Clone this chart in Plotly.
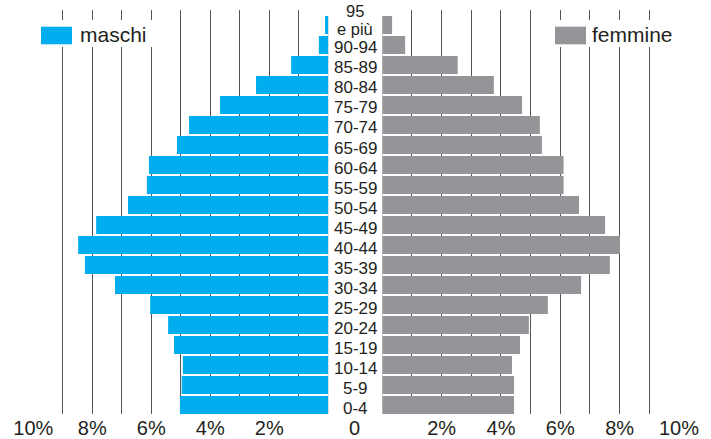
import plotly.graph_objects as go

age_groups = ["0-4", "5-9", "10-14", "15-19", "20-24", "25-29", "30-34", "35-39",
              "40-44", "45-49", "50-54", "55-59", "60-64", "65-69", "70-74",
              "75-79", "80-84", "85-89", "90-94", "95 e più"]
maschi = [5.03, 4.97, 4.93, 5.23, 5.43, 6.04, 7.23, 8.25, 8.48, 7.87,
          6.79, 6.15, 6.08, 5.13, 4.72, 3.67, 2.45, 1.26, 0.32, 0.11]
femmine = [4.44, 4.44, 4.37, 4.64, 4.94, 5.58, 6.70, 7.67, 8.01, 7.51,
           6.63, 6.11, 6.11, 5.38, 5.31, 4.71, 3.76, 2.54, 0.77, 0.33]
tick_vals = [1, 2, 3, 4, 5, 6, 7, 8, 9, 10]
tick_text = ["", "2%", "", "4%", "", "6%", "", "8%", "", "10%"]

W, H = 711, 439
BLUE = "#00AEEF"
GRAY = "#939598"
TXT = "#231F20"
FONT = "Liberation Sans, Arial, Helvetica, sans-serif"

def px(x):
    return x / W

def py(y):
    return 1 - y / H

fig = go.Figure()
fig.add_trace(go.Bar(y=age_groups, x=maschi, orientation="h", marker_color=BLUE,
                     marker_line_width=0, name="maschi", xaxis="x", yaxis="y"))
fig.add_trace(go.Bar(y=age_groups, x=femmine, orientation="h", marker_color=GRAY,
                     marker_line_width=0, name="femmine", xaxis="x2", yaxis="y2"))

axis_common = dict(tickmode="array", tickvals=tick_vals, ticktext=tick_text,
                   showgrid=True, gridcolor="#555555", gridwidth=1, zeroline=False,
                   showline=False, ticks="", fixedrange=True, automargin=False,
                   tickfont=dict(family=FONT, size=20, color=TXT))
y_dom = [py(414), py(10)]
yaxis_common = dict(type="category", categoryorder="array", categoryarray=age_groups,
                    range=[-0.45, 19.75], showticklabels=False, showgrid=False,
                    zeroline=False, showline=False, ticks="", domain=y_dom,
                    fixedrange=True, automargin=False)

fig.update_layout(
    width=W, height=H, margin=dict(l=0, r=0, t=0, b=0, autoexpand=False),
    paper_bgcolor="white", plot_bgcolor="white", showlegend=False,
    bargap=0.1,
    xaxis=dict(domain=[px(33.3), px(328.3)], range=[10, 0], anchor="y", **axis_common),
    xaxis2=dict(domain=[px(382.3), px(679)], range=[0, 10], anchor="y2", **axis_common),
    yaxis=dict(anchor="x", **yaxis_common),
    yaxis2=dict(anchor="x2", **yaxis_common),
    font=dict(family=FONT, color=TXT),
)

shapes = []
# zero lines
for xr, yr in (("x", "y"), ("x2", "y2")):
    shapes.append(dict(type="line", xref=xr, yref=yr, x0=0, x1=0, y0=-0.45, y1=19.45,
                       line=dict(color="#a0a0a0", width=1), layer="below"))
# legend backgrounds and swatches
shapes.append(dict(type="rect", xref="paper", yref="paper", x0=px(36), x1=px(156),
                   y0=py(47), y1=py(20), fillcolor="white", line_width=0, layer="above"))
shapes.append(dict(type="rect", xref="paper", yref="paper", x0=px(41), x1=px(72),
                   y0=py(44.3), y1=py(26.7), fillcolor=BLUE, line_width=0, layer="above"))
shapes.append(dict(type="rect", xref="paper", yref="paper", x0=px(550), x1=px(676),
                   y0=py(47), y1=py(20), fillcolor="white", line_width=0, layer="above"))
shapes.append(dict(type="rect", xref="paper", yref="paper", x0=px(555), x1=px(586),
                   y0=py(44.3), y1=py(26.7), fillcolor=GRAY, line_width=0, layer="above"))
fig.update_layout(shapes=shapes)

annotations = []
annotations.append(dict(text="maschi", xref="paper", yref="paper", x=px(78), y=py(34),
                        xanchor="left", yanchor="middle", showarrow=False,
                        font=dict(family=FONT, size=21, color=TXT)))
annotations.append(dict(text="femmine", xref="paper", yref="paper", x=px(590), y=py(34),
                        xanchor="left", yanchor="middle", showarrow=False,
                        font=dict(family=FONT, size=21, color=TXT)))
xc = px(355.3)
for g in age_groups:
    if g == "95 e più":
        annotations.append(dict(text="95", xref="paper", yref="paper", x=xc, y=py(11),
                                yanchor="middle", showarrow=False,
                                font=dict(family=FONT, size=16.5, color=TXT)))
        annotations.append(dict(text="e più", xref="paper", yref="paper", x=xc, y=py(29.3),
                                yanchor="middle", showarrow=False,
                                font=dict(family=FONT, size=16.5, color=TXT)))
    else:
        annotations.append(dict(text=g, xref="paper", yref="y", x=xc, y=g, yshift=-3,
                                showarrow=False, font=dict(family=FONT, size=17, color=TXT)))
annotations.append(dict(text="0", xref="paper", yref="paper", x=px(354), y=py(428),
                        yanchor="middle", showarrow=False,
                        font=dict(family=FONT, size=20, color=TXT)))
fig.update_layout(annotations=annotations)

fig.write_html("out.html")
